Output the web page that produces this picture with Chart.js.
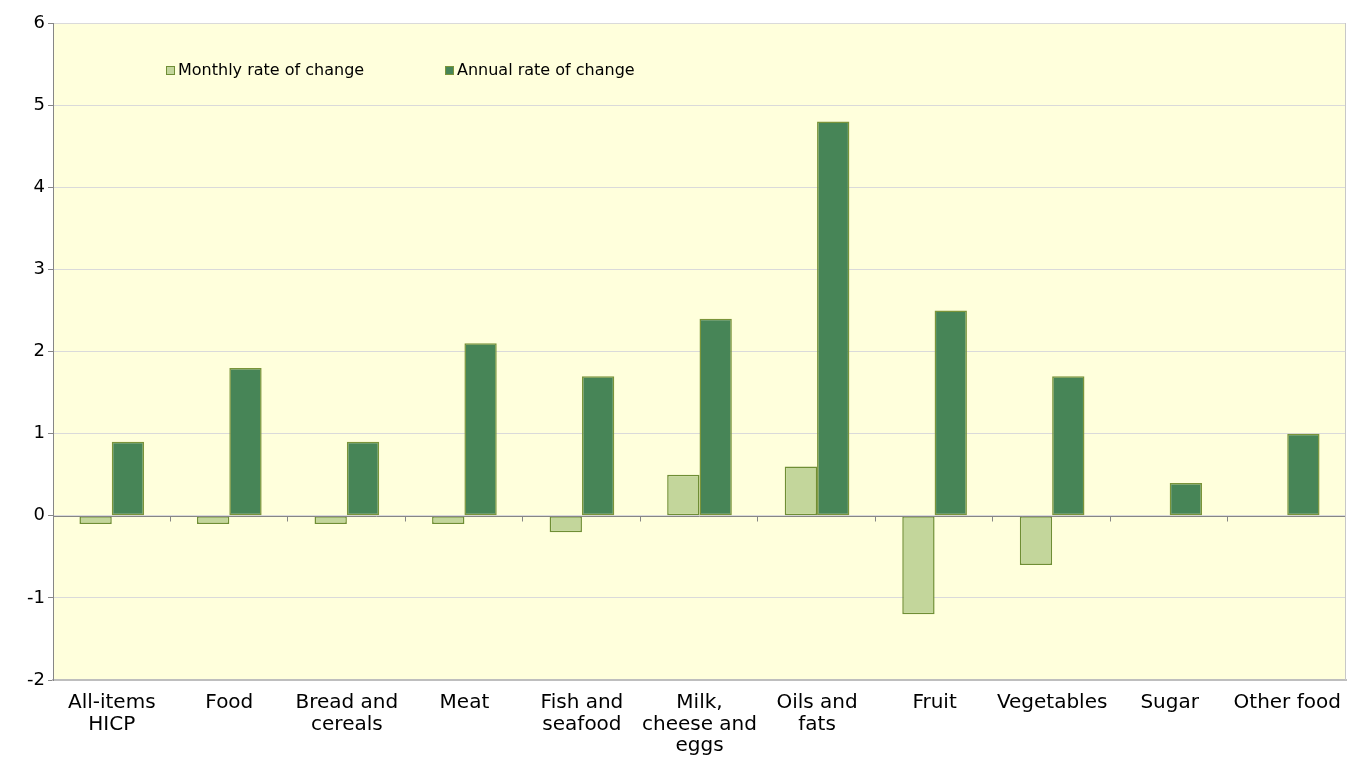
<!DOCTYPE html>
<html>
<head>
<meta charset="utf-8">
<script src="https://cdn.jsdelivr.net/npm/chart.js@4/dist/chart.umd.min.js"></script>
<style>
  html, body { margin: 0; padding: 0; background: #fff; }
  #wrap { position: relative; width: 1347px; height: 760px; }
</style>
</head>
<body>
<div id="wrap"><canvas id="hicp-chart"></canvas></div>
<script>
// HICP food components, rates of change (%)
var categories = [
  ['All-items', 'HICP'], 'Food', ['Bread and', 'cereals'], 'Meat', ['Fish and', 'seafood'],
  ['Milk,', 'cheese and', 'eggs'], ['Oils and', 'fats'], 'Fruit', 'Vegetables', 'Sugar', 'Other food'
];
var monthlyRates = [-0.1, -0.1, -0.1, -0.1, -0.2, 0.5, 0.6, -1.2, -0.6, 0, 0];
var annualRates = [0.9, 1.8, 0.9, 2.1, 1.7, 2.4, 4.8, 2.5, 1.7, 0.4, 1.0];
var yTicks = [-2, -1, 0, 1, 2, 3, 4, 5, 6];

var FONT = '"DejaVu Sans", Verdana, sans-serif';

// yellow plot background
var plotBackground = {
  id: 'plotBackground',
  beforeDraw: function (chart) {
    var a = chart.chartArea, ctx = chart.ctx;
    ctx.save();
    ctx.fillStyle = '#FFFFDC';
    ctx.fillRect(a.left, a.top, a.right - a.left, a.bottom - a.top);
    ctx.restore();
  }
};

// zero line with category tick marks hanging below it, plus right border
var zeroAxis = {
  id: 'zeroAxis',
  afterDatasetsDraw: function (chart) {
    var ctx = chart.ctx, x = chart.scales.x, y = chart.scales.y, a = chart.chartArea;
    var y0 = Math.round(y.getPixelForValue(0)) + 0.5;
    var step = (a.right - a.left) / categories.length;
    ctx.save();
    ctx.strokeStyle = '#868686';
    ctx.lineWidth = 1;
    ctx.beginPath();
    ctx.moveTo(a.left, y0);
    ctx.lineTo(a.right, y0);
    for (var i = 1; i <= categories.length; i++) {
      var px = Math.round(x.getPixelForValue(i - 1) + step / 2) - 0.5;
      ctx.moveTo(px, y0);
      ctx.lineTo(px, y0 + 5);
    }
    ctx.stroke();
    ctx.strokeStyle = '#C8C8C8';
    ctx.beginPath();
    ctx.moveTo(a.right - 0.5, a.top);
    ctx.lineTo(a.right - 0.5, a.bottom);
    ctx.stroke();
    ctx.restore();
  }
};

// legend drawn inside the plot area
var innerLegend = {
  id: 'innerLegend',
  afterDraw: function (chart) {
    var ctx = chart.ctx, a = chart.chartArea;
    var slots = [a.left + 113, a.left + 392];
    ctx.save();
    ctx.font = '16px ' + FONT;
    ctx.textBaseline = 'middle';
    chart.data.datasets.forEach(function (ds, i) {
      var lx = slots[i], ly = a.top + 47;
      ctx.fillStyle = ds.backgroundColor;
      ctx.strokeStyle = ds.borderColor;
      ctx.lineWidth = 1;
      ctx.fillRect(lx, ly - 4, 9, 9);
      ctx.strokeRect(lx + 0.5, ly - 3.5, 8, 8);
      ctx.fillStyle = '#000';
      ctx.fillText(ds.label, lx + 12, ly + 1);
    });
    ctx.restore();
  }
};

new Chart(document.getElementById('hicp-chart'), {
  type: 'bar',
  data: {
    labels: categories,
    datasets: [
      {
        label: 'Monthly rate of change',
        data: monthlyRates,
        backgroundColor: '#C3D69B',
        borderColor: '#6F8E35',
        borderWidth: 1.5,
        borderSkipped: false,
        categoryPercentage: 0.55,
        barPercentage: 1.0
      },
      {
        label: 'Annual rate of change',
        data: annualRates,
        backgroundColor: '#478557',
        borderColor: '#7A943A',
        borderWidth: 1.5,
        borderSkipped: false,
        categoryPercentage: 0.55,
        barPercentage: 1.0
      }
    ]
  },
  options: {
    responsive: true,
    maintainAspectRatio: false,
    animation: false,
    layout: { padding: { top: 23, right: 1, bottom: 0, left: 0 } },
    plugins: {
      legend: { display: false },
      tooltip: { enabled: false }
    },
    scales: {
      x: {
        grid: { display: false, drawTicks: false },
        border: { display: true, color: '#BEBEBE', width: 2 },
        ticks: {
          color: '#000',
          font: { family: FONT, size: 20, lineHeight: 1.08 },
          padding: 12,
          maxRotation: 0,
          autoSkip: false
        },
        afterFit: function (scale) {
          scale.height = 80;
          scale.paddingLeft = 0;
          scale.paddingRight = 0;
        }
      },
      y: {
        min: -2,
        max: 6,
        afterBuildTicks: function (scale) {
          scale.ticks = yTicks.map(function (v) { return { value: v }; });
        },
        grid: {
          color: '#DADADA',
          tickColor: '#868686',
          tickLength: 5
        },
        border: { display: true, color: '#868686', width: 1 },
        ticks: {
          color: '#000',
          font: { family: FONT, size: 18 },
          padding: 3
        },
        afterFit: function (scale) { scale.width = 53; }
      }
    }
  },
  plugins: [plotBackground, zeroAxis, innerLegend]
});
</script>
</body>
</html>
